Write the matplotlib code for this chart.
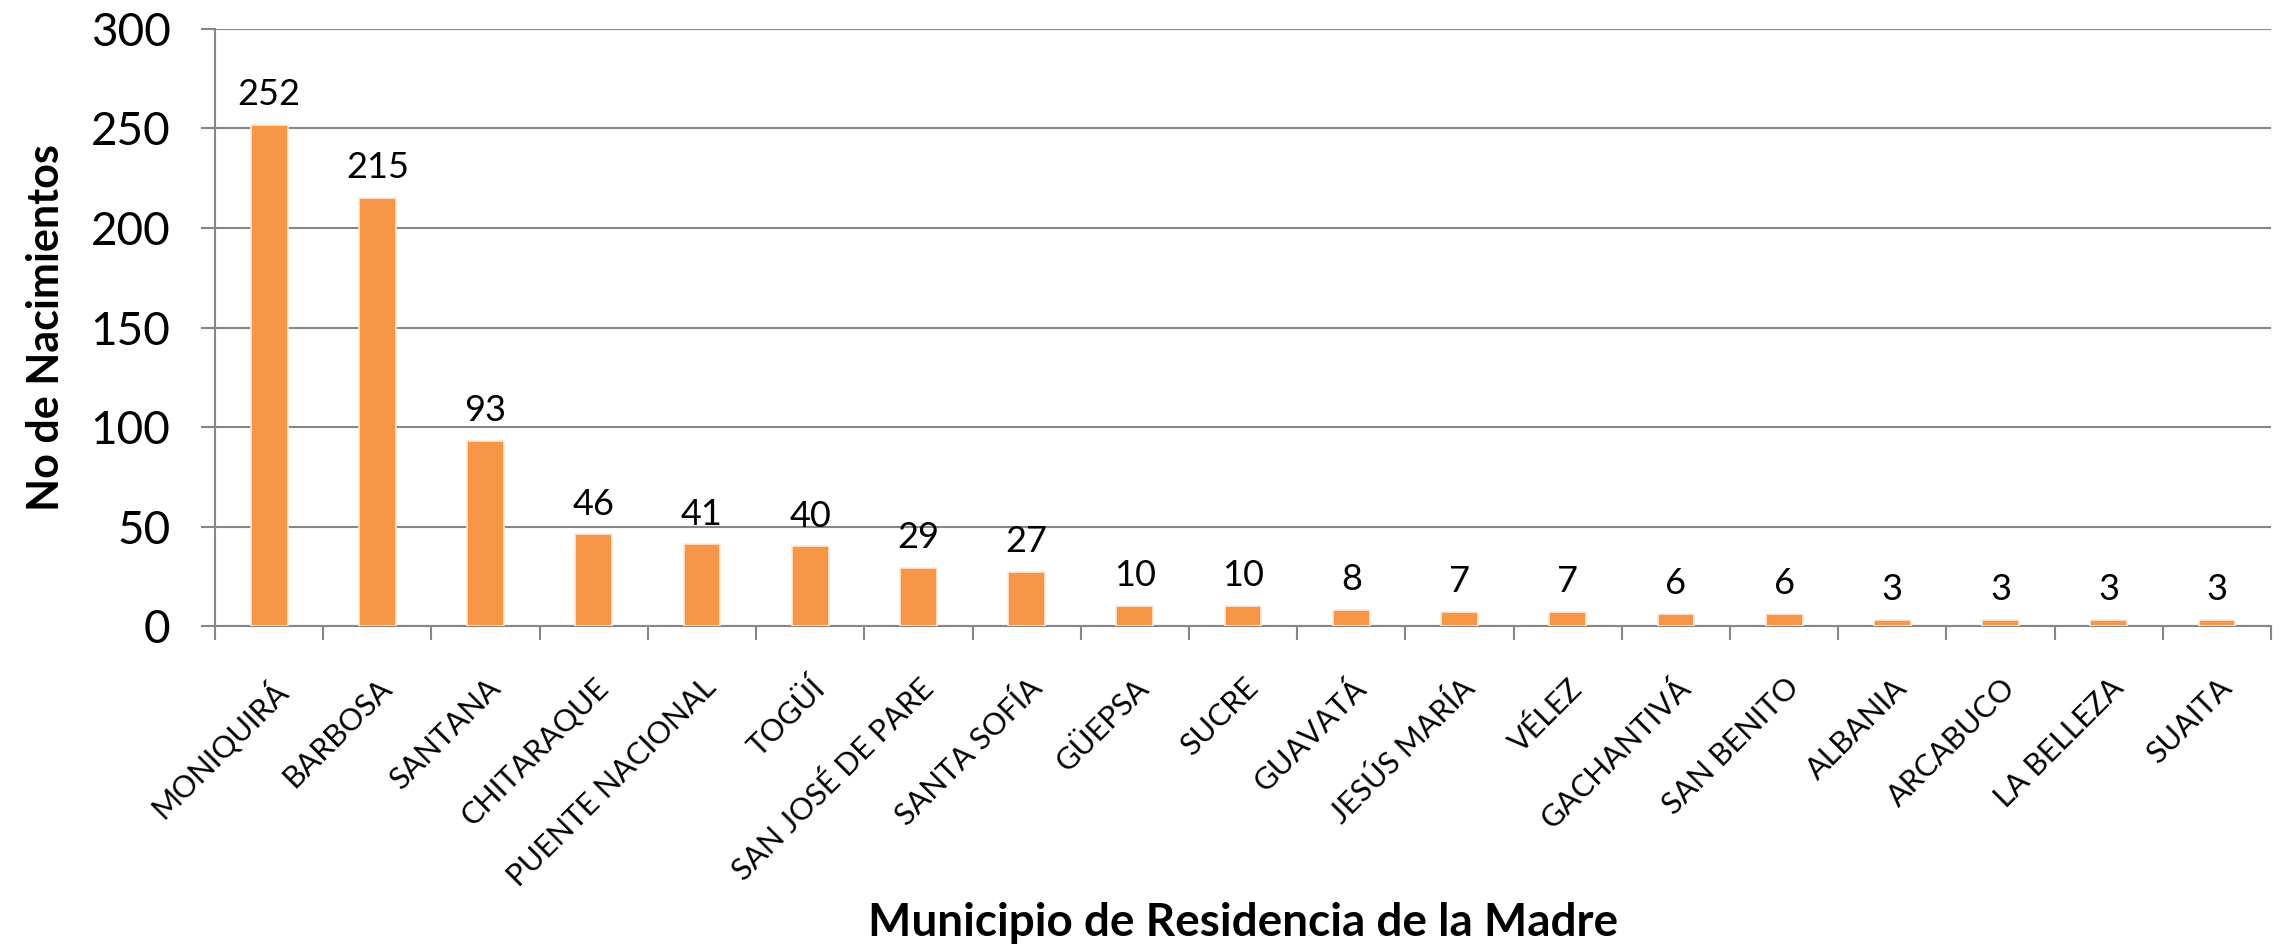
import matplotlib.pyplot as plt
import numpy as np

# Datos: nacimientos por municipio de residencia de la madre
municipios = ['MONIQUIRÁ', 'BARBOSA', 'SANTANA', 'CHITARAQUE', 'PUENTE NACIONAL',
              'TOGÜÍ', 'SAN JOSÉ DE PARE', 'SANTA SOFÍA', 'GÜEPSA', 'SUCRE',
              'GUAVATÁ', 'JESÚS MARÍA', 'VÉLEZ', 'GACHANTIVÁ', 'SAN BENITO',
              'ALBANIA', 'ARCABUCO', 'LA BELLEZA', 'SUAITA']
nacimientos = [252, 215, 93, 46, 41, 40, 29, 27, 10, 10, 8, 7, 7, 6, 6, 3, 3, 3, 3]
yticks = [0, 50, 100, 150, 200, 250, 300]

plt.rcParams['font.family'] = ['Lato', 'DejaVu Sans']

fig = plt.figure(figsize=(22.8, 9.5), dpi=100)
ax = fig.add_axes([0.0943, 0.341, 0.9018, 0.6285])

x = np.arange(len(municipios))
bars = ax.bar(x, nacimientos, width=0.34, color='#F79646', edgecolor='#FDEBDD',
              linewidth=1.2, zorder=3)

# Etiquetas de valor sobre cada barra
for rect, v in zip(bars, nacimientos):
    ax.annotate(f'{v}', xy=(rect.get_x() + rect.get_width() / 2, rect.get_height()),
                xytext=(0, 10), textcoords='offset points',
                ha='center', va='bottom', fontsize=26)

ax.set_xlim(-0.5, len(municipios) - 0.5)
ax.set_ylim(0, 300)
ax.set_yticks(yticks)
ax.tick_params(axis='y', labelsize=33, length=10, color='#868686', width=1.5, pad=22)
ax.yaxis.grid(True, color='#868686', linewidth=1.5, zorder=0)

# Marcas en el eje x entre categorias
ax.set_xticks(np.arange(len(municipios) + 1) - 0.5, minor=True)
ax.set_xticks(x)
ax.set_xticklabels(municipios, rotation=45, ha='right', rotation_mode='anchor',
                   fontsize=22)
ax.tick_params(axis='x', which='major', length=0, pad=34)
ax.tick_params(axis='x', which='minor', length=10, color='#868686', width=1.5)

for side in ['top', 'right']:
    ax.spines[side].set_visible(False)
for side in ['left', 'bottom']:
    ax.spines[side].set_color('#868686')
    ax.spines[side].set_linewidth(1.5)

ax.set_ylabel('No de Nacimientos', fontsize=31, fontweight='bold', labelpad=18)
fig.text(0.545, 0.028, 'Municipio de Residencia de la Madre', fontsize=33,
         fontweight='bold', ha='center', va='center')

fig.savefig('out.png', dpi=100)
